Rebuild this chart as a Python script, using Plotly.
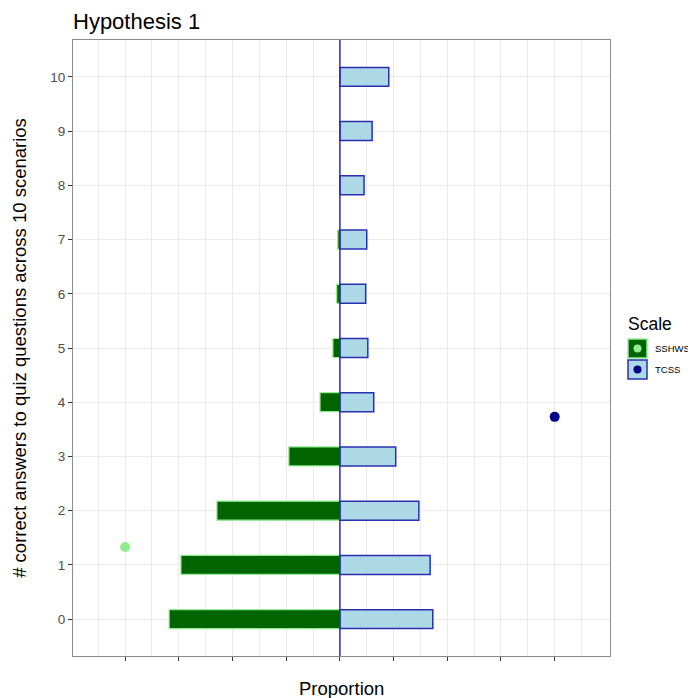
import plotly.graph_objects as go

# ---- data ----
correct_answers = [0, 1, 2, 3, 4, 5, 6, 7, 8, 9, 10]
sshws_prop = [0.318, 0.296, 0.229, 0.095, 0.037, 0.013, 0.006, 0.004, 0.0, 0.0, 0.0]
tcss_prop = [0.173, 0.168, 0.147, 0.104, 0.063, 0.052, 0.048, 0.050, 0.045, 0.060, 0.091]
mean_x = [-0.4, 0.4]
mean_y = [1.33, 3.73]
scale_names = ["SSHWS", "TCSS"]
x_ticks = [-0.4, -0.3, -0.2, -0.1, 0.0, 0.1, 0.2, 0.3, 0.4]

FONT = "Arial, Liberation Sans, sans-serif"
green_fill, green_line = "#006400", "#90EE90"
blue_fill, blue_line = "#ADD8E6", "#2A2FB0"
blue_pt = "#00008B"

# page has an 8px body margin; figure sized/offset to match target page positions
OFF = 8
W, H = 696 - OFF, 698 - OFF
L, R, T, B = 73 - OFF, 86, 40 - OFF, 42
pw, ph = W - L - R, H - T - B


def px2paper(px, py):
    """page pixel -> paper coords"""
    return (px - OFF - L) / pw, 1 - (py - OFF - T) / ph


fig = go.Figure()
fig.add_trace(go.Bar(
    y=correct_answers, x=[-v for v in sshws_prop], orientation="h", width=0.35,
    marker=dict(color=green_fill, line=dict(color=green_line, width=1.2)),
    name=scale_names[0], showlegend=False))
fig.add_trace(go.Bar(
    y=correct_answers, x=tcss_prop, orientation="h", width=0.35,
    marker=dict(color=blue_fill, line=dict(color=blue_line, width=1.5)),
    name=scale_names[1], showlegend=False))
fig.add_trace(go.Scatter(
    x=[mean_x[0]], y=[mean_y[0]], mode="markers",
    marker=dict(color=green_line, size=10), showlegend=False))
fig.add_trace(go.Scatter(
    x=[mean_x[1]], y=[mean_y[1]], mode="markers",
    marker=dict(color=blue_pt, size=10), showlegend=False))

# zero line
fig.add_shape(type="line", xref="x", yref="paper", x0=0, x1=0, y0=0, y1=1,
              line=dict(color=blue_line, width=1.5), layer="above")

fig.update_layout(
    width=W, height=H, barmode="overlay",
    paper_bgcolor="white", plot_bgcolor="white",
    margin=dict(l=L, r=R, t=T, b=B),
    font=dict(family=FONT, color="#000000"),
)
fig.add_annotation(text="Hypothesis 1", xref="paper", yref="paper", x=0, y=1,
                   xanchor="left", yanchor="bottom", yshift=4, xshift=-2, showarrow=False,
                   font=dict(size=22, color="#000000", family=FONT))
fig.update_xaxes(
    range=[-0.497, 0.503], tickvals=x_ticks, ticktext=[""] * len(x_ticks),
    ticks="outside", ticklen=4, tickcolor="#333333",
    showgrid=True, gridcolor="#EBEBEB", gridwidth=1,
    minor=dict(dtick=0.1, tick0=0.05, showgrid=True, gridcolor="#EBEBEB", gridwidth=1),
    showline=True, mirror=True, linecolor="#8C8C8C", linewidth=1, zeroline=False,
)
fig.update_yaxes(
    range=[-0.68, 10.68], tickvals=correct_answers, ticktext=[str(v) for v in correct_answers],
    ticks="outside", ticklen=4, tickcolor="#333333",
    tickfont=dict(size=13.5, color="#4D4D4D", family=FONT),
    showgrid=True, gridcolor="#EBEBEB", gridwidth=1,
    showline=True, mirror=True, linecolor="#8C8C8C", linewidth=1, zeroline=False,
    title=dict(text="# correct answers to quiz questions across 10 scenarios",
               font=dict(size=18.5, color="#000000", family=FONT), standoff=18),
)

# x-axis title
fig.add_annotation(text="Proportion", xref="paper", yref="paper", x=0.5, y=0,
                   xanchor="center", yanchor="top", yshift=-20, showarrow=False,
                   font=dict(size=18.5, color="#000000", family=FONT))

# legend (manual, ggplot style)
sx, sy = px2paper(626, 312)
fig.add_annotation(text="Scale", xref="paper", yref="paper", x=sx, y=sy,
                   xanchor="left", yanchor="top", showarrow=False,
                   font=dict(size=17.5, color="#000000", family=FONT))

keys = [(scale_names[0], green_fill, green_line, green_line, 339),
        (scale_names[1], blue_fill, blue_line, blue_pt, 360)]
for name, fill, line, dot, top in keys:
    x0, y0 = px2paper(628, top)
    x1, y1 = px2paper(647, top + 19)
    fig.add_shape(type="rect", xref="paper", yref="paper", x0=x0, x1=x1, y0=y1, y1=y0,
                  fillcolor=fill, line=dict(color=line, width=1.5))
    cx0, cy0 = px2paper(633.5, top + 5.5)
    cx1, cy1 = px2paper(641.5, top + 13.5)
    fig.add_shape(type="circle", xref="paper", yref="paper", x0=cx0, x1=cx1, y0=cy1, y1=cy0,
                  fillcolor=dot, line=dict(color=dot, width=0))
    lx, ly = px2paper(653, top + 9.5)
    fig.add_annotation(text=name, xref="paper", yref="paper", x=lx, y=ly,
                       xanchor="left", yanchor="middle", showarrow=False,
                       font=dict(size=9.5, color="#000000", family=FONT))

fig.write_html("out.html")
